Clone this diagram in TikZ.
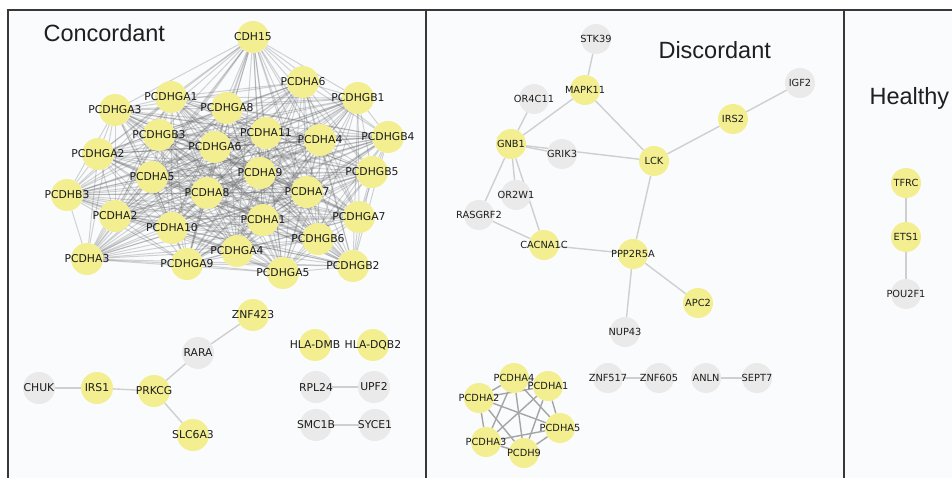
\documentclass[tikz,border=0pt]{standalone}
\usepackage{fontspec}
\setmainfont{Liberation Sans}
\newfontfamily\genefont{DejaVu Sans}
\definecolor{nodeyel}{HTML}{F3EF91}
\definecolor{nodegry}{HTML}{EAEAEA}
\definecolor{panelbg}{HTML}{FAFBFD}
\definecolor{framecol}{HTML}{383838}
\definecolor{edgecol}{HTML}{CFCFCF}
\definecolor{txtcol}{HTML}{1C1C1C}
\pgfdeclarelayer{back}
\pgfdeclarelayer{edges}
\pgfsetlayers{back,edges,main}
\tikzset{
  gene/.style={circle,inner sep=0pt,text=txtcol},
  yel/.style={gene,fill=nodeyel},
  gry/.style={gene,fill=nodegry},
  cfont/.style={minimum size=32pt,font=\genefont\fontsize{10.8}{12}\selectfont},
  dfont/.style={minimum size=30pt,font=\genefont\fontsize{9.8}{11}\selectfont},
  link/.style={edgecol,line width=1.4pt},
  clq/.style={black!60,line width=1pt,opacity=0.28},
  frame/.style={framecol,line width=2.2pt},
  paneltitle/.style={font=\fontsize{23.5}{28}\selectfont,text=black!88,anchor=base west}
}

\begin{document}
\begin{tikzpicture}[x=1pt,y=-1pt]
  \useasboundingbox (0,0) rectangle (952,478);

  % PANELS
  \begin{pgfonlayer}{back}
    \fill[panelbg] (8,10) rectangle (952,478);
    \draw[frame] (8,478) -- (8,10) -- (952,10);
    \foreach \xd in {426,844}
      \draw[frame] (\xd,10) -- (\xd,478);
  \end{pgfonlayer}

  % TITLES
  \node[paneltitle] (tconc) at (40,42)  {Concordant};
  \node[paneltitle] (tdisc) at (655,59) {Discordant};
  \node[paneltitle] (thlth) at (866,105) {Healthy};

  % CONCORDANT: protocadherin cluster (all pairs linked)
  \def\cclust{CDH15/{253,37}, PCDHA6/{303,82}, PCDHGB1/{358,98},
    PCDHGA1/{171,97}, PCDHGA3/{115,110}, PCDHGA8/{227,108},
    PCDHGB3/{159,135}, PCDHA11/{266,133}, PCDHA4/{320,140},
    PCDHGB4/{388,137}, PCDHGA6/{215,147}, PCDHGA2/{98,154},
    PCDHA9/{260,173}, PCDHGB5/{372,172}, PCDHA5/{152,177},
    PCDHB3/{67,195}, PCDHA8/{207,193}, PCDHA7/{307,192},
    PCDHA2/{115,216}, PCDHA10/{172,228}, PCDHA1/{263,220},
    PCDHGA7/{359,217}, PCDHGB6/{318,239}, PCDHGA4/{237,251},
    PCDHA3/{87,259}, PCDHGA9/{187,264}, PCDHGA5/{283,273},
    PCDHGB2/{353,266}}
  \foreach \g/\p in \cclust
    \node[yel,cfont] (c\g) at (\p) {\makebox[0pt]{\g}};
  \begin{pgfonlayer}{edges}
    \foreach \a/\pa [count=\i] in \cclust {
      \foreach \b/\pb [count=\j] in \cclust {
        \ifnum\j>\i \draw[clq] (c\a) -- (c\b); \fi
      }
    }
  \end{pgfonlayer}

  % CONCORDANT: small groups
  \foreach \g/\p/\s in {ZNF423/{253,315}/yel, RARA/{198,353}/gry,
      CHUK/{39,388}/gry, IRS1/{97,388}/yel, PRKCG/{154,391}/yel,
      SLC6A3/{193,435}/yel, HLA-DMB/{315,345}/yel, HLA-DQB2/{373,345}/yel,
      RPL24/{316,387}/gry, UPF2/{374,387}/gry,
      SMC1B/{316,425}/gry, SYCE1/{375,425}/gry}
    \node[\s,cfont] (c\g) at (\p) {\makebox[0pt]{\g}};
  \begin{pgfonlayer}{edges}
    \foreach \a/\b in {CHUK/IRS1, IRS1/PRKCG, PRKCG/RARA, RARA/ZNF423,
        PRKCG/SLC6A3, RPL24/UPF2, SMC1B/SYCE1}
      \draw[link] (c\a) -- (c\b);
  \end{pgfonlayer}

  % DISCORDANT
  \foreach \g/\p/\s in {STK39/{596,39}/gry, IGF2/{800,83}/gry,
      MAPK11/{585,90}/yel, OR4C11/{534,99}/gry, IRS2/{733,119}/yel,
      GNB1/{511,144}/yel, GRIK3/{562,154}/gry, LCK/{654,161}/yel,
      OR2W1/{516,195}/gry, RASGRF2/{479,215}/gry, CACNA1C/{544,245}/yel,
      PPP2R5A/{633,254}/yel, APC2/{698,303}/yel, NUP43/{625,332}/gry,
      ZNF517/{608,378}/gry, ZNF605/{659,378}/gry,
      ANLN/{706,378}/gry, SEPT7/{757,378}/gry}
    \node[\s,dfont] (d\g) at (\p) {\makebox[0pt]{\g}};
  \begin{pgfonlayer}{edges}
    \foreach \a/\b in {STK39/MAPK11, MAPK11/GNB1, MAPK11/LCK,
        OR4C11/GNB1, GNB1/GRIK3, GNB1/LCK, LCK/IRS2, IRS2/IGF2,
        LCK/PPP2R5A, GNB1/RASGRF2, GNB1/OR2W1, GNB1/CACNA1C,
        RASGRF2/CACNA1C, CACNA1C/PPP2R5A, PPP2R5A/NUP43,
        PPP2R5A/APC2, ZNF517/ZNF605, ANLN/SEPT7}
      \draw[link] (d\a) -- (d\b);
  \end{pgfonlayer}

  % DISCORDANT: small protocadherin clique
  \def\dclust{PCDHA4/{514,378}, PCDHA1/{548,386}, PCDHA2/{479,398},
    PCDHA5/{560,428}, PCDHA3/{486,442}, PCDH9/{524,453}}
  \foreach \g/\p in \dclust
    \node[yel,dfont] (d\g) at (\p) {\makebox[0pt]{\g}};
  \begin{pgfonlayer}{edges}
    \foreach \a/\pa [count=\i] in \dclust {
      \foreach \b/\pb [count=\j] in \dclust {
        \ifnum\j>\i \draw[link,edgecol!80!black] (d\a) -- (d\b); \fi
      }
    }
  \end{pgfonlayer}

  % HEALTHY
  \foreach \g/\p/\s in {TFRC/{906,183}/yel, ETS1/{906,237}/yel,
      POU2F1/{906,294}/gry}
    \node[\s,dfont] (h\g) at (\p) {\makebox[0pt]{\g}};
  \begin{pgfonlayer}{edges}
    \draw[link] (hTFRC) -- (hETS1) -- (hPOU2F1);
  \end{pgfonlayer}

\end{tikzpicture}
\end{document}
